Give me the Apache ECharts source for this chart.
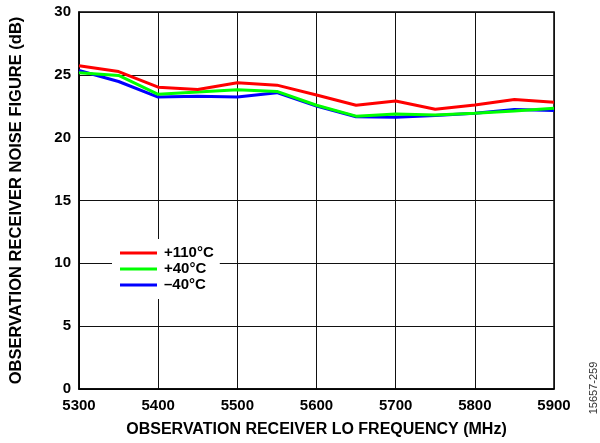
<!DOCTYPE html>
<html>
<head>
<meta charset="utf-8">
<script src="https://cdn.jsdelivr.net/npm/echarts@6/dist/echarts.min.js"></script>
<style>
html,body{margin:0;padding:0;background:#fff;}
#chart{width:600px;height:443px;}
</style>
</head>
<body>
<div id="chart"></div>
<script>
const frequencies = [5300, 5350, 5400, 5450, 5500, 5550, 5600, 5650, 5700, 5750, 5800, 5850, 5900];
const nf110 = [25.73, 25.26, 24.02, 23.84, 24.37, 24.18, 23.40, 22.58, 22.92, 22.26, 22.60, 23.03, 22.82];
const nf40 = [25.16, 24.95, 23.45, 23.63, 23.82, 23.68, 22.58, 21.71, 21.89, 21.81, 21.95, 22.13, 22.34];
const nfm40 = [25.34, 24.47, 23.23, 23.29, 23.23, 23.58, 22.52, 21.66, 21.63, 21.77, 21.95, 22.24, 22.16];
const seriesNames = ['+110°C', '+40°C', '–40°C'];
const xTitle = 'OBSERVATION RECEIVER LO FREQUENCY (MHz)';
const yTitle = 'OBSERVATION RECEIVER NOISE FIGURE (dB)';
const figId = '15657-259';

const pairs = arr => frequencies.map((f, i) => [f, arr[i]]);
const FONT = '"Liberation Sans", Arial, sans-serif';

const chart = echarts.init(document.getElementById('chart'), null, {renderer: 'canvas'});
chart.setOption({
  animation: false,
  grid: {left: 78, right: 46, top: 12, bottom: 51, show: true, borderColor: '#000', borderWidth: 1.5, backgroundColor: 'transparent'},
  legend: {
    orient: 'vertical', left: 112, top: 239,
    data: seriesNames,
    backgroundColor: '#fff',
    padding: [6, 6, 6, 8],
    itemWidth: 37, itemHeight: 3, itemGap: 0,
    icon: 'rect',
    textStyle: {fontFamily: FONT, fontWeight: 'bold', fontSize: 15, color: '#000', lineHeight: 16, padding: [0, 0, 0, 2]}
  },
  xAxis: {
    type: 'value', min: 5300, max: 5900, interval: 100,
    name: xTitle, nameLocation: 'middle', nameGap: 33,
    nameTextStyle: {fontFamily: FONT, fontWeight: 'bold', fontSize: 16, color: '#000'},
    axisLine: {show: true, lineStyle: {color: '#000', width: 1.5}},
    axisTick: {show: false},
    axisLabel: {fontFamily: FONT, fontWeight: 'bold', fontSize: 15, color: '#000', margin: 9, formatter: v => String(v)},
    splitLine: {show: true, lineStyle: {color: '#111', width: 1}}
  },
  yAxis: {
    type: 'value', min: 0, max: 30, interval: 5,
    name: yTitle, nameLocation: 'middle', nameGap: 54,
    nameTextStyle: {fontFamily: FONT, fontWeight: 'bold', fontSize: 16.5, color: '#000'},
    axisLine: {show: true, lineStyle: {color: '#000', width: 1.5}},
    axisTick: {show: false},
    axisLabel: {fontFamily: FONT, fontWeight: 'bold', fontSize: 15, color: '#000', margin: 8},
    splitLine: {show: true, lineStyle: {color: '#111', width: 1}}
  },
  graphic: [{
    type: 'text', rotation: Math.PI / 2, x: 594, y: 388,
    style: {text: figId, font: '11px "Liberation Sans", Arial, sans-serif', fill: '#333', textAlign: 'center', textVerticalAlign: 'middle'}
  }],
  series: [
    {name: seriesNames[2], type: 'line', data: pairs(nfm40), showSymbol: false, symbol: 'none', lineStyle: {color: '#0000ff', width: 3}, itemStyle: {color: '#0000ff'}, z: 2},
    {name: seriesNames[1], type: 'line', data: pairs(nf40), showSymbol: false, symbol: 'none', lineStyle: {color: '#00ff00', width: 3}, itemStyle: {color: '#00ff00'}, z: 3},
    {name: seriesNames[0], type: 'line', data: pairs(nf110), showSymbol: false, symbol: 'none', lineStyle: {color: '#ff0000', width: 3}, itemStyle: {color: '#ff0000'}, z: 4}
  ]
});
</script>
</body>
</html>
